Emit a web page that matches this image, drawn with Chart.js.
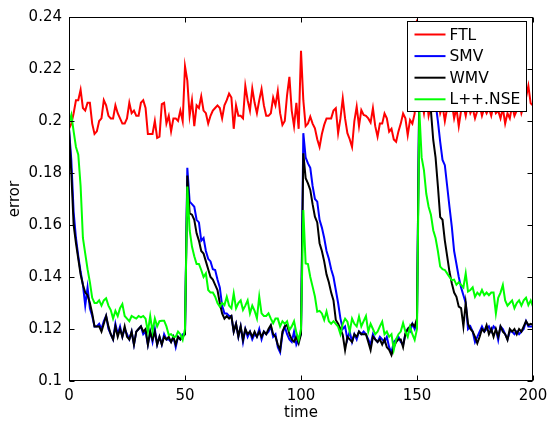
<!DOCTYPE html>
<html>
<head>
<meta charset="utf-8">
<script src="https://cdn.jsdelivr.net/npm/chart.js@4/dist/chart.umd.min.js"></script>
<style>
html,body{margin:0;padding:0;background:#fff;}
#wrap{width:548px;height:422px;position:relative;}
</style>
</head>
<body>
<div id="wrap"><canvas id="c" width="548" height="422"></canvas></div>
<script>
const seriesNames = ['FTL', 'SMV', 'WMV', 'L++.NSE'];
const seriesColors = ['#ff0000', '#0000ff', '#000000', '#00ff00'];
const xTicks = [0, 50, 100, 150, 200];
const xTickLabels = ['0', '50', '100', '150', '200'];
const yTicks = [0.1, 0.12, 0.14, 0.16, 0.18, 0.2, 0.22, 0.24];
const yTickLabels = ['0.1', '0.12', '0.14', '0.16', '0.18', '0.2', '0.22', '0.24'];
const times = Array.from({length: 201}, (_, i) => i);

const ftl = [
0.197,0.199,0.203,0.208,0.208,0.212,0.205,0.204,0.207,0.207,
0.199,0.195,0.196,0.200,0.201,0.208,0.206,0.202,0.201,0.201,
0.206,0.203,0.201,0.199,0.199,0.201,0.207,0.203,0.204,0.202,
0.202,0.207,0.208,0.205,0.195,0.195,0.195,0.200,0.1935,0.194,
0.2065,0.207,0.199,0.202,0.196,0.201,0.201,0.200,0.204,0.200,
0.221,0.2155,0.202,0.208,0.198,0.206,0.205,0.2095,0.204,0.203,
0.199,0.202,0.204,0.205,0.206,0.205,0.201,0.206,0.208,0.2105,
0.209,0.197,0.206,0.202,0.202,0.201,0.2135,0.208,0.204,0.2125,
0.207,0.203,0.208,0.2123,0.206,0.202,0.202,0.203,0.209,0.206,
0.2115,0.203,0.1985,0.200,0.210,0.217,0.204,0.198,0.207,0.197,
0.227,0.208,0.198,0.199,0.2017,0.199,0.1972,0.193,0.190,0.195,
0.1985,0.201,0.201,0.201,0.204,0.2049,0.1953,0.201,0.2087,0.201,
0.1953,0.193,0.190,0.200,0.2055,0.198,0.2042,0.2023,0.202,0.201,
0.1994,0.2049,0.198,0.194,0.199,0.199,0.2029,0.201,0.1959,0.197,
0.1929,0.192,0.196,0.199,0.2029,0.201,0.1946,0.2004,0.199,0.2029,
0.239,0.205,0.208,0.203,0.210,0.202,0.206,0.204,0.205,0.209,
0.203,0.206,0.200,0.205,0.204,0.207,0.201,0.205,0.198,0.204,
0.206,0.202,0.207,0.203,0.205,0.201,0.204,0.206,0.202,0.205,
0.203,0.205,0.202,0.206,0.203,0.204,0.201,0.205,0.199,0.203,
0.201,0.206,0.202,0.204,0.208,0.203,0.206,0.209,0.2135,0.2068,
0.206];

const smv = [
0.197,0.185,0.165,0.155,0.148,0.142,0.137,0.129,0.136,0.128,
0.125,0.121,0.121,0.122,0.120,0.123,0.125,0.120,0.118,0.116,
0.122,0.118,0.121,0.117,0.120,0.118,0.116,0.119,0.114,0.119,
0.120,0.121,0.118,0.119,0.114,0.119,0.115,0.120,0.114,0.117,
0.114,0.118,0.116,0.116,0.115,0.117,0.113,0.117,0.116,0.118,
0.118,0.182,0.169,0.168,0.167,0.162,0.161,0.154,0.155,0.150,
0.147,0.146,0.143,0.1427,0.139,0.136,0.129,0.126,0.126,0.125,
0.125,0.119,0.122,0.117,0.121,0.115,0.120,0.117,0.119,0.116,
0.118,0.117,0.120,0.116,0.119,0.118,0.119,0.121,0.117,0.118,
0.113,0.111,0.118,0.121,0.118,0.116,0.115,0.119,0.114,0.116,
0.118,0.1953,0.186,0.1837,0.182,0.175,0.170,0.169,0.162,0.159,
0.155,0.150,0.147,0.143,0.140,0.135,0.130,0.124,0.120,0.121,
0.116,0.119,0.115,0.118,0.116,0.119,0.118,0.119,0.118,0.116,
0.114,0.118,0.116,0.115,0.117,0.116,0.115,0.117,0.113,0.111,
0.115,0.116,0.117,0.115,0.114,0.118,0.120,0.119,0.122,0.120,
0.123,0.215,0.222,0.218,0.215,0.213,0.211,0.209,0.207,0.200,
0.192,0.185,0.183,0.175,0.167,0.1594,0.150,0.145,0.140,0.136,
0.133,0.130,0.120,0.121,0.119,0.115,0.117,0.119,0.121,0.119,
0.120,0.121,0.119,0.121,0.120,0.1158,0.121,0.120,0.118,0.116,
0.119,0.119,0.118,0.119,0.118,0.119,0.120,0.123,0.121,0.121,
0.121];

const wmv = [
0.197,0.180,0.160,0.153,0.147,0.141,0.137,0.134,0.133,0.130,
0.126,0.121,0.121,0.121,0.119,0.122,0.125,0.121,0.118,0.116,
0.121,0.117,0.120,0.117,0.121,0.117,0.116,0.119,0.114,0.119,
0.120,0.121,0.119,0.120,0.114,0.119,0.116,0.119,0.114,0.117,
0.114,0.117,0.116,0.117,0.115,0.117,0.114,0.117,0.116,0.117,
0.118,0.179,0.1645,0.164,0.162,0.1568,0.154,0.150,0.149,0.146,
0.143,0.140,0.139,0.137,0.135,0.130,0.126,0.124,0.125,0.124,
0.125,0.119,0.122,0.1171,0.121,0.1158,0.120,0.118,0.119,0.117,
0.119,0.117,0.119,0.117,0.119,0.118,0.120,0.1215,0.118,0.117,
0.114,0.112,0.119,0.121,0.1216,0.118,0.116,0.1151,0.117,0.1145,
0.118,0.1876,0.178,0.176,0.1735,0.168,0.1632,0.161,0.153,0.150,
0.146,0.141,0.138,0.134,0.131,0.1235,0.122,0.120,0.1177,0.1119,
0.117,0.116,0.115,0.118,0.117,0.119,0.118,0.118,0.118,0.115,
0.1119,0.117,0.116,0.115,0.116,0.114,0.116,0.113,0.112,0.110,
0.113,0.115,0.116,0.116,0.113,0.1183,0.120,0.121,0.122,0.121,
0.124,0.212,0.218,0.214,0.211,0.208,0.204,0.1927,0.186,0.175,
0.163,0.162,0.154,0.148,0.142,0.1376,0.134,0.1324,0.1286,0.128,
0.121,0.130,0.122,0.120,0.119,0.117,0.1145,0.117,0.120,0.119,
0.1215,0.118,0.120,0.117,0.120,0.117,0.121,0.119,0.118,0.1158,
0.120,0.119,0.120,0.118,0.120,0.119,0.121,0.123,0.1215,0.122,
0.1216];

const lnse = [
0.199,0.2023,0.196,0.190,0.187,0.175,0.155,0.149,0.143,0.138,
0.132,0.130,0.130,0.131,0.129,0.131,0.1318,0.129,0.1273,0.124,
0.127,0.125,0.128,0.1296,0.125,0.124,0.123,0.125,0.1245,0.124,
0.125,0.1245,0.125,0.124,0.119,0.125,0.119,0.124,0.121,0.123,
0.1232,0.1232,0.121,0.1177,0.118,0.117,0.117,0.119,0.118,0.1158,
0.120,0.1748,0.158,0.1517,0.148,0.145,0.145,0.1427,0.140,0.1414,
0.135,0.134,0.134,0.1324,0.130,0.1286,0.130,0.1292,0.1324,0.129,
0.128,0.1337,0.128,0.130,0.131,0.1273,0.129,0.131,0.126,0.129,
0.127,0.1241,0.1325,0.126,0.125,0.125,0.126,0.124,0.1222,0.124,
0.124,0.121,0.123,0.122,0.123,0.1196,0.121,0.123,0.1186,0.1158,
0.120,0.1658,0.1452,0.145,0.140,0.1363,0.1325,0.1267,0.127,0.126,
0.1235,0.1267,0.123,0.122,0.123,0.122,0.1209,0.118,0.122,0.124,
0.1228,0.119,0.124,0.122,0.121,0.1248,0.121,0.123,0.125,0.119,
0.122,0.120,0.118,0.119,0.121,0.1228,0.118,0.119,0.117,0.118,
0.112,0.116,0.118,0.119,0.1223,0.119,0.117,0.1209,0.118,0.1158,
0.120,0.204,0.186,0.181,0.172,0.167,0.164,0.158,0.155,0.150,
0.144,0.143,0.1427,0.1414,0.140,0.1388,0.139,0.137,0.138,0.137,
0.136,0.1414,0.1344,0.135,0.136,0.1324,0.134,0.133,0.135,0.133,
0.134,0.133,0.134,0.134,0.126,0.132,0.134,0.1369,0.131,0.129,
0.130,0.131,0.128,0.130,0.131,0.129,0.131,0.132,0.1292,0.131,
0.1286];

const seriesValues = [ftl, smv, wmv, lnse];
const FONT = "'DejaVu Sans', 'Liberation Sans', sans-serif";

const framePlugin = {
  id: 'frame',
  afterDraw(chart) {
    const ctx = chart.ctx;
    const {left, right, top, bottom} = chart.chartArea;
    const xs = chart.scales.x, ys = chart.scales.y;
    ctx.save();
    ctx.strokeStyle = '#000';
    ctx.lineWidth = 1;
    const L = Math.round(left) + 0.5, R = Math.round(right) - 0.5;
    const T = Math.round(top) + 0.5, B = Math.round(bottom) - 0.5;
    ctx.beginPath();
    xTicks.forEach(v => {
      const px = Math.round(xs.getPixelForValue(v)) + 0.5;
      ctx.moveTo(px, B); ctx.lineTo(px, B - 5);
      ctx.moveTo(px, T); ctx.lineTo(px, T + 5);
    });
    yTicks.forEach(v => {
      const py = Math.round(ys.getPixelForValue(v)) + 0.5;
      ctx.moveTo(L, py); ctx.lineTo(L + 5, py);
      ctx.moveTo(R, py); ctx.lineTo(R - 5, py);
    });
    ctx.stroke();
    ctx.strokeRect(L, T, R - L, B - T);

    // legend
    const bx = Math.round(right) - 125.5, by = T + 4;
    const bw = 119, bh = 90;
    ctx.fillStyle = '#fff';
    ctx.fillRect(bx, by, bw, bh);
    ctx.strokeRect(bx, by, bw, bh);
    ctx.font = '15.5px ' + FONT;
    ctx.textBaseline = 'middle';
    ctx.textAlign = 'left';
    seriesNames.forEach((name, i) => {
      const ry = by + 13 + i * 21.6;
      ctx.beginPath();
      ctx.strokeStyle = seriesColors[i];
      ctx.lineWidth = 2;
      ctx.moveTo(bx + 7, ry); ctx.lineTo(bx + 38, ry);
      ctx.stroke();
      ctx.fillStyle = '#000';
      ctx.fillText(name, bx + 42, ry + 1);
    });
    ctx.restore();
  }
};

new Chart(document.getElementById('c'), {
  type: 'line',
  data: {
    datasets: seriesNames.map((name, i) => ({
      label: name,
      data: times.map((t, k) => ({x: t, y: seriesValues[i][k]})),
      borderColor: seriesColors[i],
      backgroundColor: seriesColors[i],
      borderWidth: 2,
      pointRadius: 0,
      tension: 0,
      fill: false,
      order: seriesNames.length - i
    }))
  },
  options: {
    responsive: false,
    animation: false,
    events: [],
    layout: {padding: {left: 0, right: 15, top: 17, bottom: 0}},
    plugins: {legend: {display: false}, tooltip: {enabled: false}},
    scales: {
      x: {
        type: 'linear', min: 0, max: 200,
        grid: {display: false, drawTicks: false},
        border: {display: false},
        afterBuildTicks: s => { s.ticks = xTicks.map(v => ({value: v})); },
        afterFit: s => { s.height = 41; s.paddingLeft = 0; s.paddingRight = 0; },
        ticks: {
          color: '#000', maxRotation: 0, padding: 6,
          font: {family: FONT, size: 15},
          callback: (v) => xTickLabels[xTicks.indexOf(v)]
        },
        title: {display: true, text: 'time', color: '#000', font: {family: FONT, size: 15}, padding: {top: 0, bottom: 0}}
      },
      y: {
        type: 'linear', min: 0.1, max: 0.24,
        grid: {display: false, drawTicks: false},
        border: {display: false},
        afterBuildTicks: s => { s.ticks = yTicks.map(v => ({value: v})); },
        afterFit: s => { s.width = 69; s.paddingTop = 0; s.paddingBottom = 0; },
        ticks: {
          color: '#000', padding: 7,
          font: {family: FONT, size: 15},
          callback: (v) => yTickLabels[yTicks.indexOf(v)]
        },
        title: {display: true, text: 'error', color: '#000', font: {family: FONT, size: 15}, padding: {top: 6, bottom: 0}}
      }
    }
  },
  plugins: [framePlugin]
});
</script>
</body>
</html>
